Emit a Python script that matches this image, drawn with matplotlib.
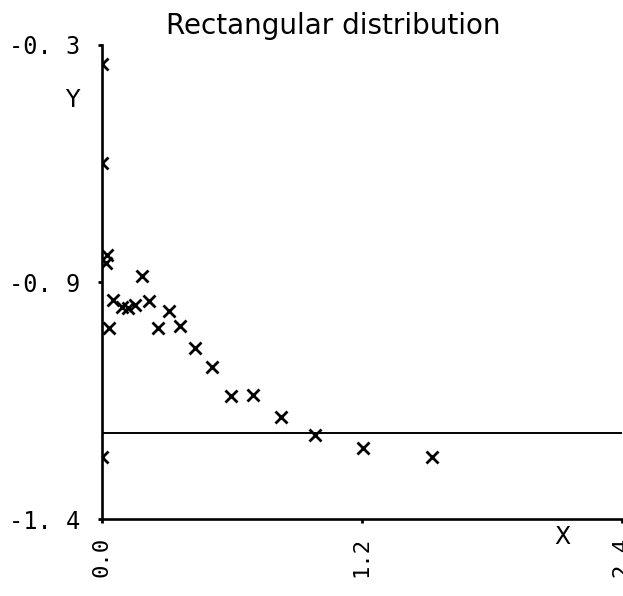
#!/usr/bin/env python3
"""Rectangular distribution - scatter de X vs Y com linha de referencia."""
import matplotlib
matplotlib.use("Agg")
import matplotlib.pyplot as plt

# pontos
X = [0.0, 0.0, 0.023, 0.018, 0.185, 0.051, 0.092, 0.120, 0.152, 0.217,
     0.309, 0.032, 0.258, 0.360, 0.429, 0.508, 0.595, 0.697, 0.826, 0.983,
     1.204, 1.523, 0.0]
Y = [-0.344, -0.574, -0.787, -0.806, -0.836, -0.892, -0.908, -0.910, -0.903,
     -0.894, -0.917, -0.957, -0.957, -0.952, -1.003, -1.047, -1.115, -1.112,
     -1.163, -1.205, -1.235, -1.256, -1.256]
REF_Y = -1.2

X_TICKS = [0.0, 1.2, 2.4]
X_LABELS = ["0.0", "1.2", "2.4"]
Y_TICKS = [-0.3, -0.85, -1.4]
Y_LABELS = ["-0. 3", "-0. 9", "-1. 4"]

MONO = "DejaVu Sans Mono"

fig = plt.figure(figsize=(6.23, 5.96), dpi=100)
ax = fig.add_axes([0.1637, 0.129, 0.8343, 0.7955])

ax.plot(X, Y, ls="none", marker="x", ms=9, mew=2.0, color="black", clip_on=True)
ax.plot([X_TICKS[0], X_TICKS[-1]], [REF_Y, REF_Y], color="black", lw=1.4)

ax.set_xlim(X_TICKS[0], X_TICKS[-1])
ax.set_ylim(Y_TICKS[-1], Y_TICKS[0])

for s in ("top", "right"):
    ax.spines[s].set_visible(False)
for s in ("left", "bottom"):
    ax.spines[s].set_linewidth(1.9)

ax.set_xticks(X_TICKS)
ax.set_xticklabels(X_LABELS, rotation=90, fontsize=16, family=MONO)
ax.set_yticks(Y_TICKS)
ax.set_yticklabels(Y_LABELS, fontsize=17, family=MONO)
ax.tick_params(axis="both", length=3, width=2, direction="out")
ax.tick_params(axis="y", pad=13)
ax.tick_params(axis="x", pad=10)

fig.text(333 / 623, 1 - 26 / 596, "Rectangular distribution",
         ha="center", va="center", fontsize=20)
fig.text(72 / 623, 1 - 100 / 596, "Y", ha="center", va="center", fontsize=17)
fig.text(562 / 623, 1 - 537 / 596, "X", ha="center", va="center", fontsize=17)

plt.savefig("out.png", dpi=100)
plt.close()
